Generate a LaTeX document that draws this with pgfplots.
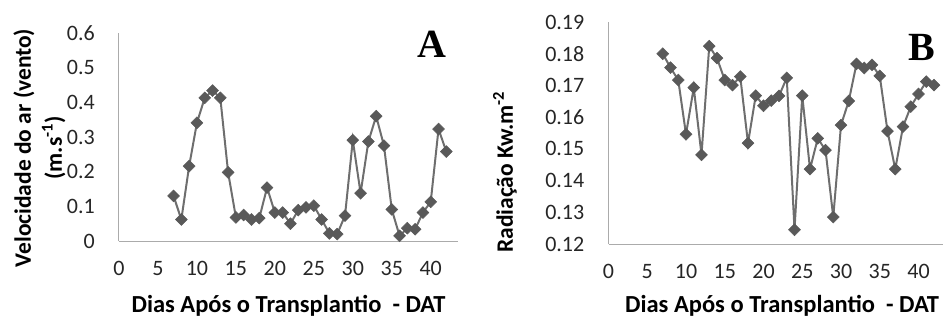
\documentclass[border=0pt]{standalone}
\usepackage{pgfplots}
\pgfplotsset{compat=1.18}
\usepackage{fontspec}
\setmainfont{Carlito}
\newfontfamily\letterfont{Liberation Serif}
\definecolor{lncol}{HTML}{6E6E6E}
\definecolor{mkcol}{HTML}{595959}
\definecolor{axcol}{HTML}{ABABAB}
\definecolor{tkcol}{HTML}{262626}

\pgfplotstableread{
d v
7 0.130
8 0.062
9 0.216
10 0.341
11 0.413
12 0.434
13 0.413
14 0.198
15 0.068
16 0.075
17 0.062
18 0.066
19 0.154
20 0.082
21 0.082
22 0.050
23 0.089
24 0.097
25 0.102
26 0.062
27 0.022
28 0.020
29 0.073
30 0.291
31 0.138
32 0.287
33 0.360
34 0.275
35 0.091
36 0.015
37 0.037
38 0.034
39 0.082
40 0.113
41 0.323
42 0.258
}\dataA

\pgfplotstableread{
d v
7 0.1800
8 0.1756
9 0.1717
10 0.1546
11 0.1693
12 0.1481
13 0.1824
14 0.1786
15 0.1717
16 0.1701
17 0.1728
18 0.1518
19 0.1668
20 0.1636
21 0.1652
22 0.1667
23 0.1724
24 0.1245
25 0.1668
26 0.1436
27 0.1533
28 0.1496
29 0.1285
30 0.1575
31 0.1651
32 0.1768
33 0.1755
34 0.1765
35 0.1730
36 0.1556
37 0.1436
38 0.1570
39 0.1633
40 0.1673
41 0.1712
42 0.1701
}\dataB

\pgfplotsset{
  myaxis/.style={
    scale only axis,
    anchor=south west,
    clip=false,
    axis x line=bottom,
    axis y line=left,
    axis line style={-, draw=axcol, line width=1pt},
    major tick length=0pt,
    tick style={draw=none},
    xmin=0,
    xtick={0,5,10,15,20,25,30,35,40},
    xticklabels={0,5,10,15,20,25,30,35,40},
    tick label style={font=\fontsize{22}{26}\selectfont, text=tkcol},
    xticklabel style={anchor=north, inner sep=0pt, yshift=-20pt},
    yticklabel style={anchor=east, inner sep=0pt, xshift=-24pt},
    xlabel={Dias Após o Transplantio\ \ - DAT},
    xlabel style={font=\bfseries\fontsize{24.5}{28}\selectfont, anchor=center},
    ylabel style={font=\bfseries\fontsize{23.5}{31}\selectfont, anchor=center, align=center},
  },
  myplot/.style={
    line width=2pt, color=lncol,
    mark=square*, mark size=4.2pt,
    mark options={fill=mkcol, draw=mkcol, rotate=45, line width=0.5pt},
  },
}

\begin{document}
\begin{tikzpicture}
\useasboundingbox (0pt,0pt) rectangle (943pt,327pt);

\begin{axis}[myaxis,
  at={(119pt,86pt)}, width=339pt, height=208pt,
  xmax=43.5, ymin=0, ymax=0.6,
  ytick={0,0.1,0.2,0.3,0.4,0.5,0.6},
  yticklabels={0,0.1,0.2,0.3,0.4,0.5,0.6},
  xlabel style={at={(axis description cs:0.5,-0.31)}},
  ylabel={Velocidade do ar (vento)\\(m.s\textsuperscript{-1})},
  ylabel style={at={(axis description cs:-0.235,0.447)}},
]
\addplot[myplot] table[x=d, y=v] {\dataA};
\node[font=\letterfont\bfseries\fontsize{40}{44}\selectfont] at (axis description cs:0.923,0.947) {A};
\end{axis}

\begin{axis}[myaxis,
  at={(608.5pt,83pt)}, width=334.5pt, height=222pt,
  xmax=43.16, ymin=0.12, ymax=0.19,
  ytick={0.12,0.13,0.14,0.15,0.16,0.17,0.18,0.19},
  yticklabels={0.12,0.13,0.14,0.15,0.16,0.17,0.18,0.19},
  xlabel style={at={(axis description cs:0.519,-0.277)}},
  ylabel={Radiação Kw.m\textsuperscript{-2}},
  ylabel style={at={(axis description cs:-0.3094,0.324)}},
]
\addplot[myplot] table[x=d, y=v] {\dataB};
\node[font=\letterfont\bfseries\fontsize{40}{44}\selectfont] at (axis description cs:0.937,0.887) {B};
\end{axis}
\end{tikzpicture}
\end{document}
